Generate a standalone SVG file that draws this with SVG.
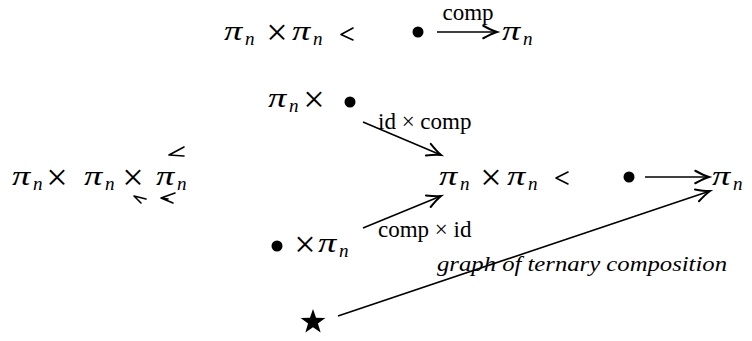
<svg xmlns="http://www.w3.org/2000/svg" width="752" height="341" viewBox="0 0 752 341">
<style>
.pi{font-family:"Liberation Serif","DejaVu Serif",serif;font-style:italic;font-size:27px;fill:#000}
.sub{font-family:"Liberation Serif","DejaVu Serif",serif;font-style:italic;font-size:19px;fill:#000}
.op{font-family:"Liberation Serif","DejaVu Serif",serif;font-size:38px;fill:#000;text-anchor:middle}
.lbl{font-family:"Liberation Serif","DejaVu Serif",serif;font-size:23px;fill:#000}
.it{font-family:"Liberation Serif","DejaVu Serif",serif;font-style:italic;font-size:21px;fill:#000}
.tip{fill:none;stroke:#000;stroke-width:1.6;stroke-linecap:round;stroke-linejoin:round}
.edge{fill:none;stroke:#000;stroke-width:1.6}
.dot{fill:#000}
</style>
<defs>
<marker id="ah" markerUnits="userSpaceOnUse" markerWidth="20" markerHeight="20" viewBox="-12 -8 14 16" refX="0" refY="0" orient="auto">
<path d="M-11,-5 Q-4,-1.2 0,0 Q-4,1.2 -11,5" fill="none" stroke="#000" stroke-width="1.6" stroke-linecap="round"/>
</marker>
</defs>

<g id="n_top_pair">
<text class="pi" transform="translate(224,40) scale(1.35,1)">π</text><text class="sub" x="245" y="45">n</text>
<text class="op" x="277" y="45">×</text>
<text class="pi" transform="translate(292,40) scale(1.35,1)">π</text><text class="sub" x="313" y="45">n</text>
<path class="tip" d="M353,28 L341,34.5 L353,40"/>
</g>
<g id="n_top_dot"><circle class="dot" cx="418" cy="32" r="5.5"/></g>
<g id="n_top_pi">
<text class="pi" transform="translate(502,40) scale(1.35,1)">π</text><text class="sub" x="523" y="45">n</text>
</g>

<g id="n_pi_dot">
<text class="pi" transform="translate(268,107) scale(1.35,1)">π</text><text class="sub" x="289" y="112">n</text>
<text class="op" x="314" y="112">×</text>
<circle class="dot" cx="350" cy="102" r="5.5"/>
</g>

<g id="n_triple">
<text class="pi" transform="translate(12,185) scale(1.35,1)">π</text><text class="sub" x="33" y="190">n</text>
<text class="op" x="57" y="190">×</text>
<text class="pi" transform="translate(84,185) scale(1.35,1)">π</text><text class="sub" x="105" y="190">n</text>
<text class="op" x="133" y="190">×</text>
<text class="pi" transform="translate(156,185) scale(1.35,1)">π</text><text class="sub" x="177" y="190">n</text>
<path class="tip" d="M184,147 L169,155 L184,156"/>
<path class="tip" d="M146,199 L134,196 L141,203"/>
<path class="tip" d="M175,193 L161,198 L173,203 M161,198 L168,199"/>
</g>

<g id="n_mid_pair">
<text class="pi" transform="translate(439,185) scale(1.35,1)">π</text><text class="sub" x="460" y="190">n</text>
<text class="op" x="491" y="190">×</text>
<text class="pi" transform="translate(507,185) scale(1.35,1)">π</text><text class="sub" x="528" y="190">n</text>
<path class="tip" d="M568,172 L556,178 L568,184"/>
</g>
<g id="n_mid_dot"><circle class="dot" cx="629" cy="177" r="5.5"/></g>
<g id="n_mid_pi">
<text class="pi" transform="translate(712,185) scale(1.35,1)">π</text><text class="sub" x="733" y="190">n</text>
</g>

<g id="n_dot_pi">
<circle class="dot" cx="277" cy="246" r="5.5"/>
<text class="op" x="305" y="257">×</text>
<text class="pi" transform="translate(318,252) scale(1.35,1)">π</text><text class="sub" x="339" y="257">n</text>
</g>

<g id="n_star">
<polygon class="dot" points="313,309 316.06,317.79 325.36,317.98 317.95,323.61 320.64,332.52 313,327.2 305.36,332.52 308.05,323.61 300.64,317.98 309.94,317.79"/>
</g>

<g id="connectors">
<line class="edge" x1="437" y1="32" x2="497" y2="32" marker-end="url(#ah)"/>
<text class="lbl" x="468" y="20" text-anchor="middle">comp</text>
<line class="edge" x1="363" y1="122" x2="441" y2="155" marker-end="url(#ah)"/>
<text class="lbl" x="378" y="129">id × comp</text>
<line class="edge" x1="363" y1="228" x2="441" y2="196" marker-end="url(#ah)"/>
<text class="lbl" x="378" y="237">comp × id</text>
<line class="edge" x1="645" y1="177" x2="709" y2="177" marker-end="url(#ah)"/>
<line class="edge" x1="338" y1="316" x2="710" y2="191" marker-end="url(#ah)"/>
<text class="it" x="437" y="271" textLength="290" lengthAdjust="spacingAndGlyphs">graph of ternary composition</text>
</g>
</svg>
